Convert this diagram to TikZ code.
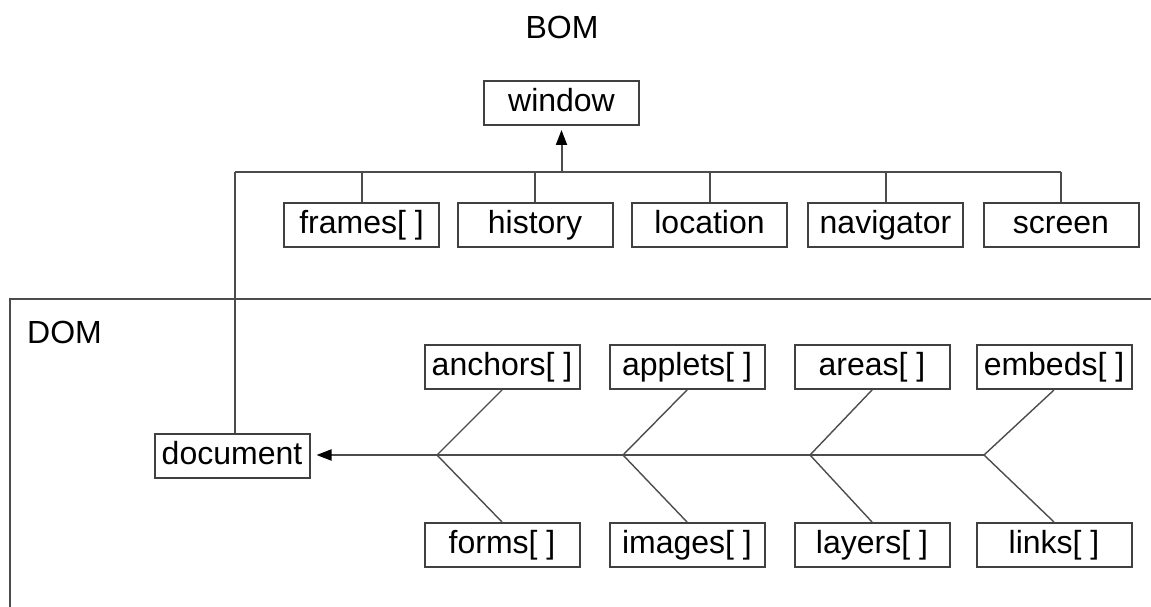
\documentclass[tikz,border=0pt]{standalone}
\usepackage{fontspec}
\setmainfont{Liberation Sans}
\usetikzlibrary{arrows.meta}
\begin{document}
\begin{tikzpicture}[x=1pt,y=-1pt,
  every node/.style={font=\fontsize{32}{38}\selectfont, text=black},
  box/.style={draw=black!75, line width=2pt, minimum width=155pt, minimum height=44pt, inner sep=0pt, text height=23pt, text depth=6pt},
  conn/.style={draw=black!70, line width=2pt},
  arr/.style={conn, -{Triangle[length=15pt,width=11pt,fill=black,color=black]}},
  lbl/.style={inner sep=0pt}]
\useasboundingbox (0,0) rectangle (1151,607);
% BOM
\node[lbl] (bom) at (562,27) {BOM};
\node[box] (window) at (561.5,103) {window};
\node[box] (frames) at (361.5,224.5) {frames[ ]};
\node[box] (history) at (535,224.5) {history};
\node[box] (location) at (709.5,224.5) {location};
\node[box] (navigator) at (885.5,224.5) {navigator};
\node[box] (screen) at (1061,224.5) {screen};
\coordinate (busL) at (235,172);
\coordinate (busR) at (1061,172);
\coordinate (busW) at (561.5,172);
\draw[conn] (busL) -- (busR);
\foreach \n in {frames,history,location,navigator,screen}
  \draw[conn] (\n.north |- busL) -- (\n.north);
\draw[arr, shorten >=4pt] (busW) -- (window.south);
% DOM frame
\coordinate (domBL) at (10,607);
\coordinate (domTL) at (10,299);
\coordinate (domTR) at (1151,299);
\draw[conn] (domBL) -- (domTL) -- (domTR);
\node[lbl, anchor=west] (dom) at (27,332) {DOM};
\node[box] (document) at (232,456) {document};
\draw[conn] (busL) -- (busL |- document.north);
\node[box] (anchors) at (502,367) {anchors[ ]};
\node[box] (applets) at (687,367) {applets[ ]};
\node[box] (areas) at (872,367) {areas[ ]};
\node[box] (embeds) at (1054,367) {embeds[ ]};
\node[box] (forms) at (502,545) {forms[ ]};
\node[box] (images) at (687,545) {images[ ]};
\node[box] (layers) at (872,545) {layers[ ]};
\node[box] (links) at (1054,545) {links[ ]};
\coordinate (b1) at (437,455);
\coordinate (b2) at (623,455);
\coordinate (b3) at (810,455);
\coordinate (b4) at (984,455);
\draw[arr, shorten >=6pt] (b4) -- (document.east |- b4);
\draw[conn, line width=1.4pt] (anchors.south) -- (b1) -- (forms.north);
\draw[conn, line width=1.4pt] (applets.south) -- (b2) -- (images.north);
\draw[conn, line width=1.4pt] (areas.south) -- (b3) -- (layers.north);
\draw[conn, line width=1.4pt] (embeds.south) -- (b4) -- (links.north);
\end{tikzpicture}
\end{document}
